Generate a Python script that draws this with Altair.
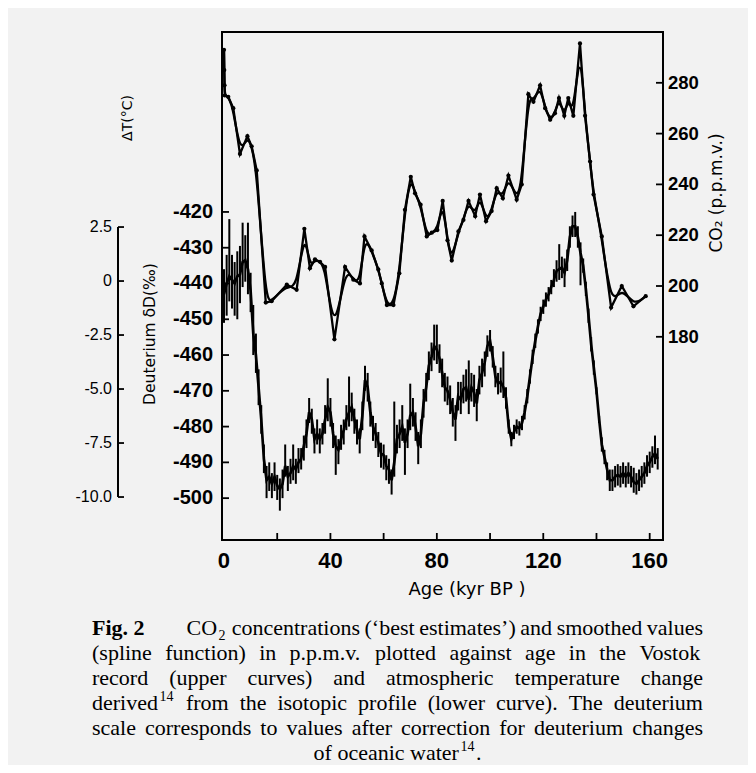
import altair as alt
import pandas as pd

# ---------------- data ----------------
co2_age = [0.0, 0.1, 0.2, 0.3, 1.6, 3.5, 6.0, 8.8, 10.4, 12.3,
           15.7, 17.9, 23.6, 27.3, 30.2, 32.3, 34.2, 36.1, 38.0, 41.5,
           45.5, 48.6, 51.1, 52.8, 55.5, 58.0, 59.3, 61.2, 63.7, 65.9,
           68.0, 70.2, 71.8, 73.9, 76.2, 78.1, 80.2, 82.2, 84.0, 85.6,
           88.1, 90.0, 91.9, 94.4, 96.2, 98.5, 100.6, 102.5, 104.8, 106.9,
           110.0, 111.9, 114.4, 116.3, 118.8, 120.7, 122.6, 124.4, 125.9, 127.9,
           129.4, 131.3, 133.8, 135.7, 137.6, 138.9, 142.0, 145.5, 149.5, 153.9,
           158.5]
co2_ppmv = [293, 285, 279, 275, 274.5, 270, 252, 259, 255, 245.5,
            193.5, 194, 200.5, 198.5, 222.5, 207, 210.5, 209.5, 207.5, 179,
            207.5, 202.5, 201, 219.5, 214, 206.5, 201, 192.5, 192.5, 205,
            230, 243, 236.5, 232, 219.5, 221, 222, 233.5, 218, 210,
            221.5, 226, 233.5, 227.5, 236, 225.5, 229.5, 238.5, 234.5, 243.5,
            234, 240, 275.5, 272.5, 279, 270, 265.5, 268, 274, 267,
            274, 267, 295.5, 267, 249, 236, 219.5, 191.5, 200, 192,
            196]

dD_age = list(range(0, 164))
dD = [-443, -440, -438, -439, -440, -438, -437.5, -434, -433.5, -436,
      -442, -454, -460, -469, -478, -489, -495, -494, -496, -494,
      -496.5, -497.5, -496, -491, -494, -493, -491, -492, -490, -489,
      -485.5, -482, -476, -478, -483.5, -482, -483.5, -482, -478, -474.5,
      -476, -482, -485.5, -486.5, -483.5, -481, -478, -476, -474.5, -478,
      -481, -483.5, -477, -467, -469, -476, -480, -482, -484.5, -487.5,
      -488, -491, -492, -495, -490, -483.5, -482, -480, -484.5, -482,
      -477, -476, -480, -485.5, -482, -473.5, -469, -463, -460.5, -457.5,
      -458.5, -461, -465, -469, -470, -472.5, -476, -478, -471.5, -472.5,
      -469.5, -469, -472.5, -469, -470.5, -473.5, -467, -465, -462, -457.5,
      -456, -460.5, -466, -468, -467.5, -469, -472, -480, -483.5, -481.5,
      -480, -480.5, -479, -476, -471.5, -466, -460.5, -456, -452, -448.5,
      -446.5, -444.5, -443, -441, -439, -436.5, -436, -435.5, -437, -433.5,
      -427, -424, -424, -427, -431.5, -435, -441.5, -449, -457, -463.5,
      -470, -478, -485, -488.5, -492, -495, -495, -494, -493.5, -494,
      -493, -494, -493, -494, -495.5, -496, -495, -494, -493, -491,
      -490, -488.5, -487.5, -489]
# half-range of the noise bars above / below the curve
dD_up = [7, 8, 16, 7, 6, 7, 8, 11, 7, 13,
         5, 8, 6, 5, 4, 4, 4, 4, 3, 4,
         3, 3, 4, 6, 3, 4, 6, 3, 4, 3,
         3, 4, 4, 3, 3, 4, 3, 3, 4, 8,
         4, 3, 3, 3, 4, 3, 4, 10, 4, 3,
         3, 3, 4, 4, 4, 3, 3, 3, 3, 3,
         3, 3, 3, 3, 17, 4, 4, 6, 4, 4,
         9, 4, 4, 4, 4, 4, 4, 4, 4, 6,
         7, 4, 4, 4, 4, 4, 4, 4, 4, 5,
         4, 5, 11, 4, 5, 4, 4, 4, 3, 3,
         3, 3, 3, 3, 4, 10, 3, 2, 2, 2,
         2, 2, 2, 2, 2, 2, 2, 2, 2, 2,
         2, 2, 2, 2, 3, 3, 7, 3, 4, 3,
         3, 3, 4, 3, 3, 2, 2, 2, 2, 2,
         1, 1, 2, 2, 2, 3, 3, 3, 3, 3,
         3, 3, 3, 3, 4, 3, 3, 3, 3, 3,
         3, 3, 5, 3]
dD_dn = [8, 9, 7, 8, 9, 12, 8, 7, 6, 7,
         6, 6, 5, 5, 4, 4, 5, 4, 4, 4,
         4, 6, 4, 3, 4, 3, 4, 4, 3, 3,
         4, 4, 3, 4, 4, 3, 4, 3, 4, 4,
         4, 4, 8, 4, 3, 4, 3, 4, 4, 4,
         4, 4, 4, 3, 4, 4, 4, 4, 4, 4,
         4, 4, 4, 4, 4, 4, 4, 4, 9, 4,
         4, 4, 4, 5, 4, 4, 4, 4, 4, 4,
         4, 4, 4, 4, 4, 4, 4, 6, 4, 4,
         4, 4, 4, 4, 4, 5, 4, 4, 4, 3,
         3, 3, 3, 3, 3, 3, 3, 2, 2, 2,
         2, 2, 2, 2, 2, 2, 2, 2, 2, 2,
         2, 2, 2, 2, 2, 3, 3, 3, 4, 3,
         3, 3, 3, 3, 9, 2, 2, 2, 2, 2,
         1, 1, 2, 2, 3, 3, 3, 3, 3, 3,
         3, 3, 3, 3, 3, 3, 3, 3, 3, 3,
         3, 3, 3, 3]

x_tick_vals = [20, 40, 60, 80, 100, 120, 140, 160]
x_label_vals = [0, 40, 80, 120, 160]
x_label_text = ["0", "40", "80", "120", "160"]
dD_tick_vals = [-420, -430, -440, -450, -460, -470, -480, -490, -500]
dD_tick_text = ["-420", "-430", "-440", "-450", "-460", "-470", "-480", "-490", "-500"]
co2_tick_vals = [180, 200, 220, 240, 260, 280]
co2_tick_text = ["180", "200", "220", "240", "260", "280"]
t_tick_vals = [2.5, 0, -2.5, -5.0, -7.5, -10.0]
t_tick_text = ["2.5", "0", "-2.5", "-5.0", "-7.5", "-10.0"]

x_title = "Age (kyr BP )"
dD_title = "Deuterium δD(‰)"
co2_title = "CO₂ (p.p.m.v.)"
t_title = "ΔT(°C)"

caption_lines = [
    "CO₂ concentrations (‘best estimates’) and smoothed values",
    "(spline function) in p.p.m.v. plotted against age in the Vostok",
    "record (upper curves) and atmospheric temperature change",
    "derived¹⁴ from the isotopic profile (lower curve). The deuterium",
    "scale corresponds to values after correction for deuterium changes",
    "of oceanic water¹⁴.",
]
caption_bold = "Fig. 2"

# ---------------- layout ----------------
W, H = 441, 508
SANS = "Liberation Sans"
TSANS = "DejaVu Sans"
SERIF = "Liberation Serif"
T_AXIS_X = -104

xs = alt.Scale(domain=[-0.75, 165], nice=False, zero=False)
ds = alt.Scale(domain=[-511.7, -369.7], nice=False, zero=False)
cs = alt.Scale(domain=[100, 300], nice=False, zero=False)
ts = alt.Scale(domain=[-11.99, 11.53], nice=False, zero=False)

dd_df = pd.DataFrame({
    "age": dD_age, "dD": dD,
    "hi": [d + u for d, u in zip(dD, dD_up)],
    "lo": [d - v for d, v in zip(dD, dD_dn)],
})
co2_df = pd.DataFrame({"age": co2_age, "co2": co2_ppmv})

# ---- deuterium layer (also carries the age axis) ----
dd_base = alt.Chart(dd_df)
dd_noise = dd_base.mark_rule(color="black", strokeWidth=2.0).encode(
    x=alt.X("age:Q", scale=xs, axis=None),
    y=alt.Y("lo:Q", scale=ds, axis=None), y2="hi:Q")
dd_line = dd_base.mark_line(color="black", strokeWidth=2.7).encode(
    x=alt.X("age:Q", scale=xs, axis=None),
    y=alt.Y("dD:Q", scale=ds, axis=None))
dd_tick_df = pd.DataFrame({"v": dD_tick_vals, "lab": dD_tick_text})
dd_ticks = alt.Chart(dd_tick_df).mark_rule(color="black", strokeWidth=1.8).encode(
    y=alt.Y("v:Q", scale=ds, axis=None), x=alt.value(0), x2=alt.value(7))
dd_labels = alt.Chart(dd_tick_df).mark_text(
    align="right", baseline="middle", font=SANS, fontSize=20, fontWeight="bold",
    color="black").encode(
    y=alt.Y("v:Q", scale=ds, axis=None), x=alt.value(-9), text="lab:N")
x_ticks = alt.Chart(pd.DataFrame({"v": x_tick_vals})).mark_rule(
    color="black", strokeWidth=1.8).encode(
    x=alt.X("v:Q", scale=xs, axis=None), y=alt.value(H), y2=alt.value(H - 7))
x_labels = alt.Chart(pd.DataFrame({"v": x_label_vals, "lab": x_label_text})).mark_text(
    align="center", baseline="middle", font=SANS, fontSize=22, fontWeight="bold",
    color="black").encode(
    x=alt.X("v:Q", scale=xs, axis=None), y=alt.value(H + 21), text="lab:N")
dd_layer = alt.layer(dd_noise, dd_line, dd_ticks, dd_labels, x_ticks, x_labels)

# ---- CO2 layer ----
co2_base = alt.Chart(co2_df)
co2_pts = co2_base.mark_line(
    color="black", strokeWidth=2.3,
    point=alt.OverlayMarkDef(color="black", filled=True, size=18)).encode(
    x=alt.X("age:Q", scale=xs, axis=None),
    y=alt.Y("co2:Q", scale=cs, axis=None))
co2_spline = co2_base.mark_line(color="black", strokeWidth=2.3, interpolate="basis").encode(
    x=alt.X("age:Q", scale=xs, axis=None),
    y=alt.Y("co2:Q", scale=cs, axis=None))
co2_tick_df = pd.DataFrame({"v": co2_tick_vals, "lab": co2_tick_text})
co2_ticks = alt.Chart(co2_tick_df).mark_rule(color="black", strokeWidth=1.8).encode(
    y=alt.Y("v:Q", scale=cs, axis=None), x=alt.value(W), x2=alt.value(W - 7))
co2_labels = alt.Chart(co2_tick_df).mark_text(
    align="left", baseline="middle", font=SANS, fontSize=18.5, fontWeight="bold",
    color="black").encode(
    y=alt.Y("v:Q", scale=cs, axis=None), x=alt.value(W + 5), text="lab:N")
co2_layer = alt.layer(co2_pts, co2_spline, co2_ticks, co2_labels)

# ---- temperature axis layer ----
t_tick_df = pd.DataFrame({"v": t_tick_vals, "lab": t_tick_text})
t_line = alt.Chart(pd.DataFrame({"top": [t_tick_vals[0]], "bottom": [t_tick_vals[-1]]})).mark_rule(
    color="black", strokeWidth=2).encode(
    x=alt.value(T_AXIS_X), y=alt.Y("top:Q", scale=ts, axis=None), y2="bottom:Q")
t_ticks = alt.Chart(t_tick_df).mark_rule(color="black", strokeWidth=1.8).encode(
    y=alt.Y("v:Q", scale=ts, axis=None), x=alt.value(T_AXIS_X), x2=alt.value(T_AXIS_X + 6))
t_labels = alt.Chart(t_tick_df).mark_text(
    align="right", baseline="middle", font=SANS, fontSize=16, fontWeight="normal",
    color="black").encode(
    y=alt.Y("v:Q", scale=ts, axis=None), x=alt.value(T_AXIS_X - 6), text="lab:N")


def title_mark(text, x, y, size, angle):
    return alt.Chart(pd.DataFrame({"t": [text]})).mark_text(
        align="center", baseline="middle", font=TSANS, fontSize=size,
        fontWeight="normal", color="black", angle=angle).encode(
        x=alt.value(x), y=alt.value(y), text="t:N")


titles = alt.layer(
    title_mark(x_title, 245, 558, 18, 0),
    title_mark(dD_title, -72, 302, 15.5, 270),
    title_mark(co2_title, 495, 161, 17, 270),
    title_mark(t_title, -94, 86, 14, 270),
)
t_layer = alt.layer(t_line, t_ticks, t_labels, titles)

# ---- caption: justified text laid out with Times (Liberation Serif) metrics ----
TIMES = {' ': 250, 'a': 444, 'b': 500, 'c': 444, 'd': 500, 'e': 444, 'f': 333,
         'g': 500, 'h': 500, 'i': 278, 'j': 278, 'k': 500, 'l': 278, 'm': 778,
         'n': 500, 'o': 500, 'p': 500, 'q': 500, 'r': 333, 's': 389, 't': 278,
         'u': 500, 'v': 500, 'w': 722, 'x': 500, 'y': 500, 'z': 444,
         'C': 667, 'O': 722, 'T': 611, 'V': 722, 'F': 556,
         '(': 333, ')': 333, '.': 250, ',': 250, '‘': 333, '’': 333,
         '1': 500, '2': 500, '4': 500}
TIMES_B = {'F': 611, 'i': 278, 'g': 500, '.': 250, ' ': 250, '2': 500}
FS, FS_SMALL = 22, 14
SUB = {'₂': '2'}
SUP = {'¹': '1', '⁴': '4'}
LEFT, RIGHT = 92 - 222, 703 - 222
BASE0, PITCH = 635 - 32, 25
SCRIPT_GAP = 1.5


def segments(word):
    segs = []
    for ch in word:
        if ch in SUB:
            kind, c = "sub", SUB[ch]
        elif ch in SUP:
            kind, c = "sup", SUP[ch]
        else:
            kind, c = "n", ch
        if segs and segs[-1][1] == kind:
            segs[-1][0] += c
        else:
            segs.append([c, kind])
    return segs


def seg_w(text, kind):
    tab = TIMES_B if kind == "b" else TIMES
    size = FS if kind in ("n", "b") else FS_SMALL
    w = sum(tab.get(c, 500) for c in text) * size / 1000.0
    return w + (2 * SCRIPT_GAP if kind in ("sub", "sup") else 0)


rows = []
for i, line in enumerate(caption_lines):
    base = BASE0 + i * PITCH
    words = [segments(w) for w in line.split(" ")]
    if i == 0:
        words = [[[caption_bold, "b"]]] + words
    widths = [sum(seg_w(t, k) for t, k in w) for w in words]
    if i == 0:
        widths[0] += 1.7 * FS
    if i < len(caption_lines) - 1:
        gap = (RIGHT - LEFT - sum(widths)) / (len(words) - 1)
        x = LEFT
    else:
        gap = 0.25 * FS
        total = sum(widths) + gap * (len(words) - 1)
        x = (LEFT + RIGHT) / 2 - total / 2
    for w, wd in zip(words, widths):
        sx = x
        for t, k in w:
            dy = -9 if k == "sup" else (5 if k == "sub" else 0)
            off = SCRIPT_GAP if k in ("sub", "sup") else 0
            rows.append({"px": sx + off, "py": base + dy, "text": t, "kind": k})
            sx += seg_w(t, k)
        x += wd + gap
cap_df = pd.DataFrame(rows)

px_scale = alt.Scale(domain=[0, W], nice=False, zero=False)
py_scale = alt.Scale(domain=[H, 0], nice=False, zero=False)


def cap_layer(kinds, size, weight):
    return alt.Chart(cap_df).transform_filter(
        alt.FieldOneOfPredicate(field="kind", oneOf=kinds)).mark_text(
        align="left", baseline="alphabetic", font=SERIF, fontSize=size,
        fontWeight=weight, color="black").encode(
        x=alt.X("px:Q", scale=px_scale, axis=None),
        y=alt.Y("py:Q", scale=py_scale, axis=None),
        text="text:N")


caption = alt.layer(cap_layer(["n"], FS, "normal"),
                    cap_layer(["b"], FS, "bold"),
                    cap_layer(["sup", "sub"], FS_SMALL, "normal"))

chart = alt.layer(dd_layer, co2_layer, t_layer, caption).resolve_scale(
    x="independent", y="independent").properties(
    width=W, height=H,
    padding={"left": 214, "top": 24, "right": 85, "bottom": 225},
    autosize=alt.AutoSizeParams(type="none"),
    background="#f2f2f2",
).configure_view(stroke="black", strokeWidth=2)

chart.save("out.html", embed_options={"renderer": "svg", "actions": False})
